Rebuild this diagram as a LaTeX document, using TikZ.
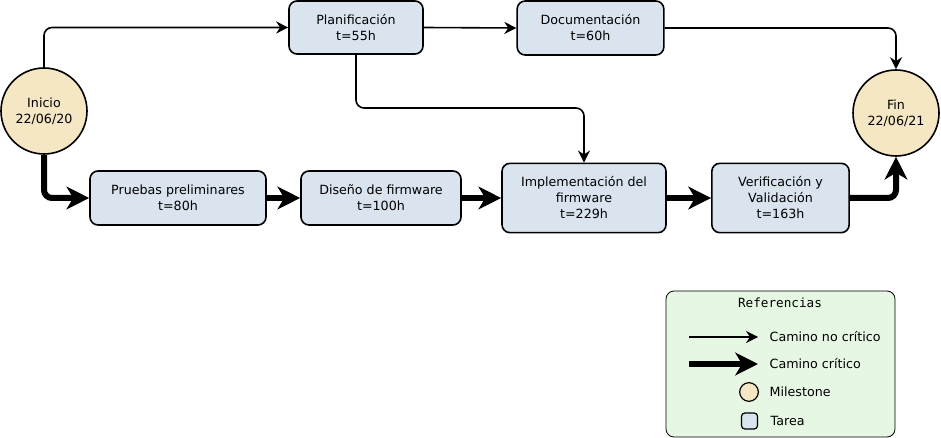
\documentclass[tikz,border=0pt]{standalone}
\usepackage{fontspec}
\setmainfont{DejaVu Sans}
\setmonofont{DejaVu Sans Mono}
\usetikzlibrary{arrows.meta}
\definecolor{tareafill}{HTML}{D9E4EE}
\definecolor{hitofill}{HTML}{F5E6C4}
\definecolor{reffill}{HTML}{E6F7E3}
\tikzset{
  tarea/.style={draw, line width=1.2pt, rounded corners=6pt, fill=tareafill, align=center,
    inner sep=0pt, font=\fontsize{9.5}{12}\selectfont},
  hito/.style={draw, circle, line width=1.2pt, fill=hitofill, align=center, inner sep=0pt,
    minimum size=64.5pt, font=\fontsize{9.5}{12}\selectfont},
  nocritico/.style={line width=1.2pt, rounded corners=6pt, -{Stealth[length=9pt,width=9pt]}},
  critico/.style={line width=4.5pt, rounded corners=6pt, -{Stealth[length=17pt,width=17pt,inset=5pt]}},
  ref/.style={anchor=west, font=\fontsize{9.5}{11}\selectfont}
}
\begin{document}
\begin{tikzpicture}[x=0.75pt,y=-0.75pt]
    \useasboundingbox (0,0) rectangle (941,438);

    \node[hito] (inicio) at (44,111) {Inicio\\22/06/20};
    \node[hito] (fin) at (896,113) {Fin\\22/06/21};

    \node[tarea, minimum width=100.5pt, minimum height=39.75pt] (plan) at (356,27.5) {Planificación\\t=55h};
    \node[tarea, minimum width=110pt, minimum height=40.5pt] (doc) at (590.5,28) {Documentación\\t=60h};
    \node[tarea, minimum width=132pt, minimum height=40.5pt] (pruebas) at (178,198) {Pruebas preliminares\\t=80h};
    \node[tarea, minimum width=120pt, minimum height=40.5pt] (diseno) at (381,198) {Diseño de firmware\\t=100h};
    \node[tarea, minimum width=123pt, minimum height=52pt] (impl) at (584,198) {Implementación del\\firmware\\t=229h};
    \node[tarea, minimum width=103pt, minimum height=52pt] (verif) at (780.5,198) {Verificación y\\Validación\\t=163h};

    \draw[nocritico] (inicio.north) |- (plan.west);
    \draw[nocritico] (plan.east) -- (doc.west);
    \draw[nocritico] (doc.east) -| (fin.north);
    \draw[nocritico] (plan.south) |- (470,108) -| (impl.north);

    \draw[critico] (inicio.south) |- (pruebas.west);
    \draw[critico] (pruebas.east) -- (diseno.west);
    \draw[critico] (diseno.east) -- (impl.west);
    \draw[critico] (impl.east) -- (verif.west);
    \draw[critico] (verif.east) -| (fin.south);

    \node[draw, line width=0.6pt, rounded corners=6pt, fill=reffill, minimum width=171.75pt,
      minimum height=109.5pt, inner sep=0pt] (refs) at (780.5,364) {};
    \node[font=\ttfamily\fontsize{9.5}{11}\selectfont] (titulo) at (780,303) {Referencias};
    \coordinate (a1) at (689,337);
    \coordinate (a2) at (758,337);
    \coordinate (b1) at (689,364);
    \coordinate (b2) at (758,364);
    \draw[nocritico] (a1) -- (a2);
    \draw[critico] (b1) -- (b2);
    \node[ref] (tnc) at (765,337) {Camino no crítico};
    \node[ref] (tc) at (765,364) {Camino crítico};
    \node[draw, circle, line width=0.9pt, fill=hitofill, minimum size=14pt, inner sep=0pt] (mhito) at (749,392) {};
    \node[ref] (thito) at (765,392) {Milestone};
    \node[draw, line width=0.9pt, rounded corners=2.5pt, fill=tareafill, minimum size=12pt, inner sep=0pt] (mtarea) at (749.5,421) {};
    \node[ref] (ttarea) at (766,421) {Tarea};
\end{tikzpicture}
\end{document}
